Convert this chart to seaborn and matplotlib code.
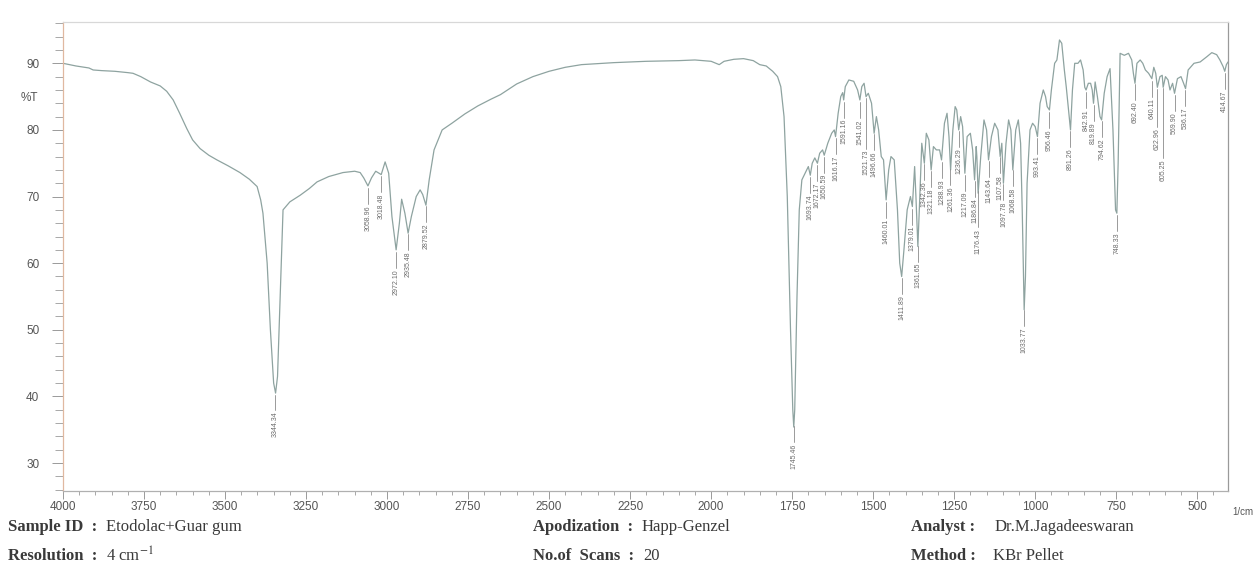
import numpy as np
import matplotlib
matplotlib.use("Agg")
import matplotlib.pyplot as plt
from matplotlib.ticker import MultipleLocator
import seaborn as sns
import pandas as pd

# ---- data ----
wavenumber = [4000, 3960, 3920, 3907, 3880, 3840, 3800, 3784, 3760, 3730, 3700, 3680, 3660, 3640,
              3618, 3600, 3577, 3550, 3525, 3490, 3454, 3425, 3401, 3390, 3383, 3370, 3360, 3350,
              3344, 3338, 3330, 3321, 3300, 3268, 3240, 3216, 3180, 3136, 3100, 3083, 3072, 3059,
              3048, 3035, 3018, 3006, 2995, 2985, 2972, 2962, 2955, 2945, 2935, 2925, 2910, 2898,
              2890, 2880, 2870, 2855, 2830, 2800, 2760, 2720, 2680, 2650, 2600, 2550, 2500, 2450,
              2400, 2300, 2200, 2100, 2050, 2000, 1975, 1960, 1930, 1900, 1870, 1850, 1830, 1810,
              1795, 1785, 1775, 1765, 1755, 1748, 1745, 1742, 1735, 1728, 1720, 1710, 1700, 1694,
              1688, 1680, 1672, 1665, 1656, 1651, 1640, 1628, 1620, 1616, 1608, 1600, 1594, 1591,
              1586, 1575, 1560, 1548, 1541, 1535, 1528, 1522, 1515, 1505, 1497, 1490, 1483, 1475,
              1468, 1460, 1452, 1445, 1435, 1425, 1418, 1412, 1405, 1395, 1385, 1379, 1372, 1368,
              1362, 1356, 1350, 1346, 1342, 1336, 1328, 1321, 1314, 1305, 1295, 1289, 1280, 1272,
              1266, 1261, 1254, 1247, 1242, 1236, 1230, 1224, 1217, 1210, 1200, 1193, 1187, 1182,
              1180, 1176, 1168, 1158, 1150, 1144, 1135, 1125, 1115, 1108, 1103, 1098, 1090, 1082,
              1075, 1069, 1060, 1052, 1045, 1040, 1036, 1034, 1030, 1025, 1016, 1008, 1000, 993,
              985, 975, 968, 963, 956, 950, 940, 933, 925, 918, 910, 904, 897, 891, 885, 878, 868,
              860, 852, 847, 843, 836, 829, 824, 820, 815, 808, 800, 795, 787, 778, 769, 760, 752,
              748, 744, 738, 725, 712, 702, 697, 692, 686, 676, 668, 660, 650, 640, 634, 628, 623,
              615, 608, 605, 598, 590, 584, 576, 570, 561, 550, 542, 536, 528, 510, 491, 470, 455,
              440, 430, 420, 415, 410, 405]
transmittance = [90.0, 89.6, 89.3, 89.0, 88.9, 88.8, 88.6, 88.5, 88.0, 87.2, 86.6, 85.8, 84.5, 82.5,
                 80.2, 78.5, 77.2, 76.2, 75.5, 74.6, 73.6, 72.6, 71.5, 69.5, 67.5, 60.0, 50.0, 42.0,
                 40.5, 43.0, 55.0, 68.0, 69.2, 70.2, 71.2, 72.2, 73.0, 73.6, 73.8, 73.6, 72.8, 71.6,
                 72.8, 73.8, 73.3, 75.2, 73.5, 67.0, 62.0, 66.0, 69.6, 67.5, 64.5, 67.0, 70.0, 71.0,
                 70.3, 68.7, 72.5, 77.0, 80.0, 81.0, 82.4, 83.6, 84.6, 85.3, 86.9, 88.0, 88.8, 89.4,
                 89.8, 90.1, 90.3, 90.4, 90.5, 90.3, 89.8, 90.3, 90.6, 90.7, 90.4, 89.8, 89.6, 88.8,
                 88.0, 86.5, 82.0, 70.0, 50.0, 38.0, 35.4, 38.0, 55.0, 68.0, 72.5, 73.5, 74.5, 73.2,
                 75.0, 75.8, 75.0, 76.5, 77.0, 76.2, 78.0, 79.5, 80.0, 79.0, 82.5, 85.0, 85.6, 84.5,
                 86.5, 87.5, 87.3, 86.0, 84.5, 86.5, 87.0, 85.0, 85.5, 84.0, 79.5, 82.0, 80.0, 76.0,
                 75.5, 69.5, 74.0, 76.0, 75.5, 68.0, 60.0, 58.0, 62.0, 68.0, 70.0, 68.5, 74.5, 70.0,
                 62.5, 70.0, 78.0, 76.5, 75.0, 79.5, 78.5, 74.0, 77.5, 77.0, 77.0, 75.5, 81.0, 82.5,
                 79.0, 74.0, 80.0, 83.5, 83.0, 80.0, 82.0, 80.5, 73.5, 79.0, 79.5, 77.0, 72.5, 77.5,
                 76.0, 70.5, 76.0, 81.5, 80.0, 75.5, 79.0, 81.0, 80.0, 76.0, 78.0, 72.0, 78.0, 81.5,
                 80.0, 74.0, 80.0, 81.5, 78.0, 68.0, 58.0, 53.0, 58.0, 72.0, 80.0, 81.0, 80.5, 79.0,
                 84.0, 86.0, 85.0, 83.5, 83.0, 86.0, 90.0, 90.5, 93.5, 93.0, 89.0, 86.4, 83.0, 80.0,
                 86.0, 90.0, 90.0, 90.5, 89.0, 86.4, 86.0, 87.0, 87.0, 86.0, 84.0, 87.2, 85.0, 82.0,
                 81.5, 85.5, 88.0, 89.2, 80.0, 68.0, 67.5, 75.0, 91.5, 91.2, 91.5, 90.5, 88.5, 87.0,
                 90.0, 90.5, 90.0, 89.0, 88.5, 87.7, 89.4, 88.5, 86.4, 88.0, 88.2, 86.4, 88.0, 87.5,
                 86.0, 87.0, 85.5, 87.7, 88.0, 87.0, 86.2, 89.0, 90.0, 90.2, 91.0, 91.6, 91.3, 90.5,
                 89.5, 88.8, 89.8, 90.2]

peak_wavenumbers = [3344.34, 3058.96, 3018.48, 2972.10, 2935.48, 2879.52, 1745.46, 1693.74,
                    1672.17, 1650.59, 1616.17, 1591.16, 1541.02, 1521.73, 1496.66, 1460.01,
                    1411.89, 1379.01, 1361.65, 1342.36, 1321.18, 1288.93, 1261.36, 1236.29,
                    1217.09, 1186.84, 1176.43, 1143.64, 1107.58, 1097.78, 1068.58, 1033.77,
                    993.41, 956.46, 891.26, 842.91, 819.89, 794.62, 748.33, 692.40, 640.11,
                    622.96, 605.25, 569.90, 536.17, 414.67]
peak_labels = ["3344.34", "3058.96", "3018.48", "2972.10", "2935.48", "2879.52", "1745.46",
               "1693.74", "1672.17", "1650.59", "1616.17", "1591.16", "1541.02", "1521.73",
               "1496.66", "1460.01", "1411.89", "1379.01", "1361.65", "1342.36", "1321.18",
               "1288.93", "1261.36", "1236.29", "1217.09", "1186.84", "1176.43", "1143.64",
               "1107.58", "1097.78", "1068.58", "1033.77", "993.41", "956.46", "891.26",
               "842.91", "819.89", "794.62", "748.33", "692.40", "640.11", "622.96", "605.25",
               "569.90", "536.17", "414.67"]

x_major_ticks = [4000, 3750, 3500, 3250, 3000, 2750, 2500, 2250, 2000, 1750, 1500, 1250, 1000, 750, 500]
y_major_ticks = [30, 40, 50, 60, 70, 80, 90]

footer_rows = [
    ("Sample ID  :", "Etodolac+Guar gum"),
    ("Resolution  :", "4 cm$^{-1}$"),
    ("Apodization  :", "Happ-Genzel"),
    ("No.of  Scans  :", "20"),
    ("Analyst :", "Dr.M.Jagadeeswaran"),
    ("Method :", "KBr Pellet"),
]

# ---- styling ----
sns.set_theme(style="white")
plt.rcParams["font.family"] = ["Liberation Sans", "DejaVu Sans"]
plt.rcParams["mathtext.fontset"] = "stix"

W, H = 1259, 565
fig = plt.figure(figsize=(W / 100, H / 100), dpi=100)
ax = fig.add_axes([63 / W, 1 - 491 / H, (1228 - 63) / W, (491 - 22) / H])

line_color = "#8ea3a0"
text_color = "#6b6b6b"

df = pd.DataFrame({"wavenumber": wavenumber, "T": transmittance})
sns.lineplot(data=df, x="wavenumber", y="T", sort=False, estimator=None,
             color=line_color, linewidth=0.9, ax=ax)

ax.set_xlim(4000, 405)
ax.set_ylim(25.8, 96.2)
ax.set_xlabel("")
ax.set_ylabel("")

ax.set_xticks(x_major_ticks)
ax.set_yticks(y_major_ticks)
ax.xaxis.set_minor_locator(MultipleLocator(50))
ax.yaxis.set_minor_locator(MultipleLocator(2))
ax.tick_params(axis="both", which="both", direction="out", color="#9a9a9a",
               labelsize=8.5, labelcolor="#555555", bottom=True, left=True)
ax.tick_params(axis="x", which="major", length=6, width=0.7, pad=1.5)
ax.tick_params(axis="x", which="minor", length=3, width=0.6)
ax.tick_params(axis="y", which="major", length=8, width=0.7, pad=9)
ax.tick_params(axis="y", which="minor", length=6, width=0.6)

for side, col in [("left", "#e0b8a0"), ("bottom", "#b0b0b0"), ("top", "#d8d8d8"), ("right", "#9a9a9a")]:
    ax.spines[side].set_visible(True)
    ax.spines[side].set_color(col)
    ax.spines[side].set_linewidth(0.9)

# peak annotations (stacked downward only when neighbours would collide)
wn_asc = np.array(wavenumber[::-1], dtype=float)
t_asc = np.array(transmittance[::-1], dtype=float)
label_len = 4.0      # label length in %T units
label_wid = 20.0     # label width in wavenumber units
placed = []
for w, lab in zip(peak_wavenumbers, peak_labels):
    t = float(np.interp(w, wn_asc, t_asc))
    top = t - 2.9
    moved = True
    while moved:
        moved = False
        for pw, ptop in placed:
            if abs(pw - w) < label_wid and not (top - label_len > ptop or top < ptop - label_len):
                top = ptop - label_len - 0.6
                moved = True
    placed.append((w, top))
    ax.plot([w, w], [t - 0.3, top + 0.2], color="#8a8a8a", linewidth=0.6)
    ax.text(w, top, lab, rotation=90, ha="center", va="top", fontsize=5,
            color=text_color)

# axis annotations
fig.text(21 / W, 1 - 98 / H, "%T", fontsize=8.5, color="#555555", ha="left", va="center")
fig.text(1232 / W, 1 - 512 / H, "1/cm", fontsize=7, color="#555555", ha="left", va="center")

# footer
positions = [(8, 527, 106), (8, 556, 106), (533, 527, 642), (533, 556, 643),
             (911, 527, 995), (911, 556, 993)]
for (lab, val), (x0, y0, xv) in zip(footer_rows, positions):
    fig.text(x0 / W, 1 - y0 / H, lab, fontsize=12, fontweight="bold", color="#3a3a3a",
             family=["Liberation Serif", "DejaVu Serif"], ha="left", va="center")
    fig.text(xv / W, 1 - y0 / H, val, fontsize=12, color="#3a3a3a",
             family=["Liberation Serif", "DejaVu Serif"], ha="left", va="center")

fig.savefig("out.png", dpi=100, facecolor="white")
